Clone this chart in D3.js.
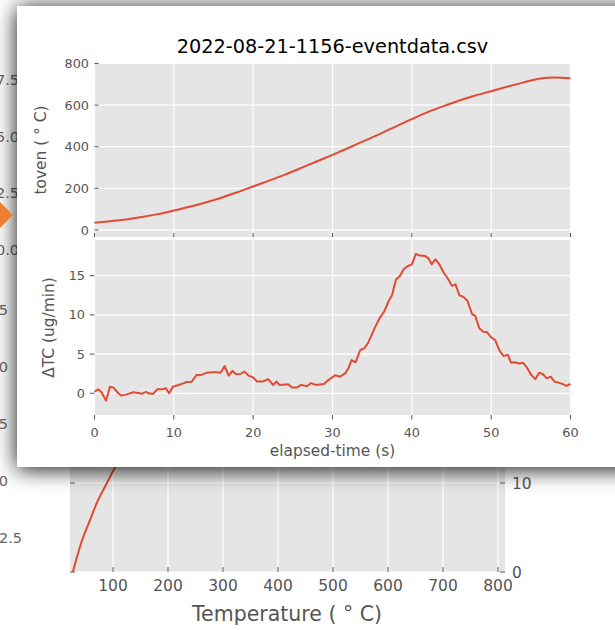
<!DOCTYPE html>
<html><head><meta charset="utf-8">
<script src="https://cdn.jsdelivr.net/npm/d3@7"></script>
<style>html,body{margin:0;padding:0;background:#fff;overflow:hidden}svg{display:block;font-family:"DejaVu Sans",sans-serif}</style>
</head><body><svg id="c" width="615" height="630"></svg>
<script>
// ---------- data: foreground chart ----------
const chartTitle = "2022-08-21-1156-eventdata.csv";
const ovenTime = [0,2,4,6,8,10,12,14,16,18,20,22,24,26,28,30,32,34,36,38,40,42,44,46,48,50,52,54,56,58,60];
const ovenTemp = [35,42,50,62,76,93,111,132,155,181,209,237,266,297,329,361,394,428,462,498,533,566,595,622,646,667,688,708,727,733,729];
const dtcTime = [0,0.5,0.9,1.45,1.95,2.4,3.0,3.4,4.05,4.9,5.5,5.95,6.5,6.9,7.4,7.9,8.5,9.0,9.4,9.9,10.6,11.2,11.6,12.25,12.9,13.3,14.15,15.0,15.4,15.9,16.4,16.9,17.4,17.85,18.4,18.9,19.4,19.95,20.5,21.2,21.9,22.5,22.96,23.3,24.4,24.9,25.5,26.06,26.8,27.3,27.9,28.9,29.5,30.3,30.96,31.6,32.0,32.4,32.9,33.5,34.0,34.5,35.4,36.0,36.5,37.05,37.5,38.0,38.5,38.95,39.45,40.0,40.5,41.05,41.7,42.1,42.5,42.95,43.5,44.0,44.5,45.05,45.5,46.0,46.5,47.0,47.6,48.0,48.5,49.0,49.5,50.0,50.5,51.05,51.55,52.1,52.5,53.0,53.5,54.0,54.5,55.05,55.55,56.05,56.5,57.0,57.5,58.0,58.5,59.1,59.5,60.0];
const dtcValue = [0.2,0.5,0.1,-0.94,0.85,0.72,0.0,-0.3,-0.14,0.13,0.05,-0.07,0.17,-0.04,-0.07,0.5,0.5,0.63,0.0,0.85,1.06,1.27,1.44,1.48,2.37,2.29,2.63,2.67,2.67,2.63,3.48,2.25,2.84,2.42,2.46,2.76,2.25,2.04,1.5,1.5,1.8,1.07,1.5,1.07,1.15,0.73,0.73,1.07,0.9,1.3,1.07,1.19,1.7,2.29,2.12,2.55,3.18,4.24,3.95,5.52,5.73,6.45,8.5,9.69,10.4,11.7,12.5,14.5,14.96,15.8,16.2,16.45,17.77,17.56,17.5,17.2,16.45,17.1,16.4,15.4,14.7,13.7,13.9,12.5,12.3,11.8,10.1,9.86,8.29,7.86,7.78,7.14,6.8,5.44,4.76,4.9,3.9,3.95,3.8,3.9,3.3,2.33,1.8,2.63,2.46,1.91,2.12,1.48,1.36,1.15,0.93,1.2];
const timeTicks = [0,10,20,30,40,50,60];
const tempTicks = [0,200,400,600,800];
const dtcTicks = [0,5,10,15];
const xLabel = "elapsed-time (s)";
const topYLabel = "toven ( \u00b0 C)";
const bottomYLabel = "\u0394TC (ug/min)";

// ---------- data: window behind ----------
const bgTempTicks = [100,200,300,400,500,600,700,800];
const bgRightTicks = [0,10];
const bgCurveTemp = [27,33,44,58,73,89,104,122];
const bgCurveValue = [0,1.35,3.6,5.8,8.1,10,11.8,13.6];
const bgXLabel = "Temperature ( \u00b0 C)";
const farTicksA = [7.5,5.0,2.5,0.0];
const farTicksB = [12.5,10.0,7.5,5.0];
const farTicksC = [2.5];

const red = "#E24A33", panel = "#E5E5E5", tickCol = "#555555";
const svg = d3.select("#c");
const defs = svg.append("defs");
const f = defs.append("filter").attr("id","sh").attr("x","-20%").attr("y","-20%").attr("width","140%").attr("height","140%");
f.append("feDropShadow").attr("dx",0).attr("dy",2).attr("stdDeviation",11).attr("flood-color","#000").attr("flood-opacity",0.95);

svg.append("rect").attr("width",615).attr("height",630).attr("fill","#fff");

// ---------- background figure ----------
const bg = svg.append("g");
const bx = d3.scaleLinear().domain([0,800]).range([58,498]);
const by = d3.scaleLinear().domain([0,10]).range([572,483]);
bg.append("rect").attr("x",70).attr("y",250).attr("width",435).attr("height",322).attr("fill",panel);
bg.selectAll(".vg").data(bgTempTicks).enter().append("line")
  .attr("x1",d=>bx(d)).attr("x2",d=>bx(d)).attr("y1",250).attr("y2",572).attr("stroke","#fff").attr("stroke-width",1.2);
bg.selectAll(".hg").data(bgRightTicks).enter().append("line")
  .attr("x1",70).attr("x2",505).attr("y1",d=>by(d)).attr("y2",d=>by(d)).attr("stroke","#fff").attr("stroke-width",1.2);
bg.selectAll(".xt").data(bgTempTicks).enter().append("line")
  .attr("x1",d=>bx(d)).attr("x2",d=>bx(d)).attr("y1",567).attr("y2",572).attr("stroke",tickCol);
bg.selectAll(".xl").data(bgTempTicks).enter().append("text")
  .attr("x",d=>bx(d)).attr("y",591).attr("text-anchor","middle").attr("font-size",15.5).attr("fill",tickCol).text(d=>d);
bg.selectAll(".lt").data(bgRightTicks).enter().append("line")
  .attr("x1",70).attr("x2",75).attr("y1",d=>by(d)).attr("y2",d=>by(d)).attr("stroke",tickCol);
bg.selectAll(".rt").data(bgRightTicks).enter().append("line")
  .attr("x1",500).attr("x2",505).attr("y1",d=>by(d)).attr("y2",d=>by(d)).attr("stroke",tickCol);
bg.selectAll(".rl").data(bgRightTicks).enter().append("text")
  .attr("x",512).attr("y",d=>by(d)+5.5).attr("font-size",15.5).attr("fill",tickCol).text(d=>d);
bg.append("text").attr("x",287).attr("y",621).attr("text-anchor","middle").attr("font-size",20.5).attr("fill",tickCol).text(bgXLabel);
bg.append("path").datum(bgCurveTemp.map((t,i)=>[t,bgCurveValue[i]]))
  .attr("d",d3.line().x(d=>bx(d[0])).y(d=>by(d[1])).curve(d3.curveMonotoneY))
  .attr("fill","none").attr("stroke",red).attr("stroke-width",2);
// further-back axes, mostly hidden
const fyA = d3.scaleLinear().domain([0,7.5]).range([250,80]);
bg.selectAll(".fa").data(farTicksA).enter().append("text")
  .attr("x",19).attr("y",d=>fyA(d)+5).attr("text-anchor","end").attr("font-size",14.5).attr("fill","#666").text(d=>d.toFixed(1));
const fyB = d3.scaleLinear().domain([5,12.5]).range([481,310]);
bg.selectAll(".fb").data(farTicksB).enter().append("text")
  .attr("x",8).attr("y",d=>fyB(d)+5).attr("text-anchor","end").attr("font-size",14.5).attr("fill","#666").text(d=>d.toFixed(1));
bg.selectAll(".fc").data(farTicksC).enter().append("text")
  .attr("x",22).attr("y",538+5).attr("text-anchor","end").attr("font-size",14.5).attr("fill","#666").text(d=>d.toFixed(1));

// ---------- foreground window ----------
const win = svg.append("g");
win.append("rect").attr("x",17).attr("y",6).attr("width",640).attr("height",461).attr("fill","#fff").attr("filter","url(#sh)");
svg.append("path").attr("d","M13,215 L-3,199 L-19,215 L-3,231 Z").attr("fill","#EE7F30");

const x = d3.scaleLinear().domain([0,60]).range([94.5,570.5]);
const yT = d3.scaleLinear().domain([-34,800]).range([237,63.5]);
const yB = d3.scaleLinear().domain([-2.77,19.55]).range([415,240]);

function panelDraw(y, yTicks, top, bottom, ticksIn) {
  win.append("rect").attr("x",x(0)).attr("y",top).attr("width",x(60)-x(0)).attr("height",bottom-top).attr("fill",panel);
  win.selectAll(null).data(timeTicks).enter().append("line")
    .attr("x1",d=>x(d)).attr("x2",d=>x(d)).attr("y1",top).attr("y2",bottom).attr("stroke","#fff").attr("stroke-width",1.2);
  win.selectAll(null).data(yTicks).enter().append("line")
    .attr("x1",x(0)).attr("x2",x(60)).attr("y1",d=>y(d)).attr("y2",d=>y(d)).attr("stroke","#fff").attr("stroke-width",1.2);
  const lx0 = ticksIn ? x(0) : x(0)-4.5, lx1 = ticksIn ? x(0)+4 : x(0);
  win.selectAll(null).data(yTicks).enter().append("line")
    .attr("x1",lx0).attr("x2",lx1).attr("y1",d=>y(d)).attr("y2",d=>y(d)).attr("stroke",tickCol);
  win.selectAll(null).data(yTicks).enter().append("text")
    .attr("x", ticksIn ? 89 : 85).attr("y",d=>y(d)+4.6).attr("text-anchor","end").attr("font-size",12.8).attr("fill",tickCol).text(d=>d);
  const ty0 = ticksIn ? bottom-4 : bottom, ty1 = ticksIn ? bottom : bottom+4.5;
  win.selectAll(null).data(timeTicks).enter().append("line")
    .attr("x1",d=>x(d)).attr("x2",d=>x(d)).attr("y1",ty0).attr("y2",ty1).attr("stroke",tickCol);
}
panelDraw(yT, tempTicks, 63.5, 237, true);
panelDraw(yB, dtcTicks, 240, 415, false);

win.append("path").datum(ovenTime.map((t,i)=>[t,ovenTemp[i]]))
  .attr("d",d3.line().x(d=>x(d[0])).y(d=>yT(d[1])).curve(d3.curveMonotoneX))
  .attr("fill","none").attr("stroke",red).attr("stroke-width",2);
win.append("path").datum(dtcTime.map((t,i)=>[t,dtcValue[i]]))
  .attr("d",d3.line().x(d=>x(d[0])).y(d=>yB(d[1])))
  .attr("fill","none").attr("stroke",red).attr("stroke-width",2).attr("stroke-linejoin","round");

win.selectAll(null).data(timeTicks).enter().append("text")
  .attr("x",d=>x(d)).attr("y",436.5).attr("text-anchor","middle").attr("font-size",12.8).attr("fill",tickCol).text(d=>d);
win.append("text").attr("x",332.5).attr("y",455.5).attr("text-anchor","middle").attr("font-size",15.4).attr("fill",tickCol).text(xLabel);
win.append("text").attr("transform","translate(45.5,150) rotate(-90)").attr("text-anchor","middle").attr("font-size",15.4).attr("fill",tickCol).text(topYLabel);
win.append("text").attr("transform","translate(53.5,327.5) rotate(-90)").attr("text-anchor","middle").attr("font-size",15.4).attr("fill",tickCol).text(bottomYLabel);
win.append("text").attr("x",332.5).attr("y",53).attr("text-anchor","middle").attr("font-size",19.3).attr("fill","#000").text(chartTitle);
</script></body></html>
